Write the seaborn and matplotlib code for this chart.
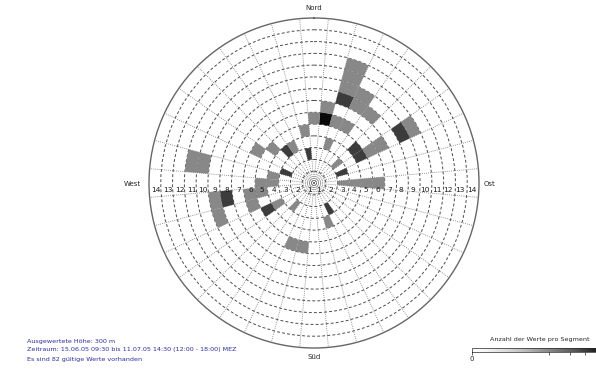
import numpy as np
import seaborn as sns
import matplotlib.pyplot as plt
from matplotlib.colors import PowerNorm
from matplotlib.cm import ScalarMappable

# segment data: direction sector (deg, centre), range band (1..14), count
sectors = [20, 20, 20, 20, 30, 30, 40,
           10, 10, 0, 20, 30,
           350, 20, 350, 320, 330, 310, 300,
           280, 280,
           60, 60,
           50, 60, 60, 60,
           90, 90, 90, 90, 70, 50,
           150, 160, 190, 200, 220, 240, 240,
           250, 260, 260, 270, 270, 280, 290,
           260, 260, 250]
bands = [11, 10, 9, 8, 9, 8, 8,
         7, 6, 6, 6, 6,
         5, 4, 3, 4, 4, 5, 6,
         10, 11,
         9, 10,
         5, 5, 6, 7,
         3, 4, 5, 6, 3, 3,
         3, 4, 6, 6, 3, 4, 5,
         6, 6, 5, 4, 5, 4, 3,
         8, 9, 9]
counts = [1, 1, 1, 3, 1, 1, 1,
          1, 5, 1, 1, 1,
          1, 1, 3, 3, 1, 1, 1,
          1, 1,
          3, 1,
          3, 3, 1, 1,
          1, 1, 1, 1, 3, 1,
          3, 1, 1, 1, 1, 1, 3,
          1, 1, 1, 1, 1, 1, 3,
          3, 1, 1]
ring_labels = [str(k) for k in range(1, 15)]

info_lines = ["Ausgewertete Höhe: 300 m",
              "Zeitraum: 15.06.05 09:30 bis 11.07.05 14:30 (12:00 - 18:00) MEZ",
              "Es sind 82 gültige Werte vorhanden"]

sns.set_style("white")
plt.rcParams['font.family'] = ['DejaVu Sans']

cmap = sns.color_palette("Greys", as_cmap=True)
norm = PowerNorm(gamma=0.35, vmin=0, vmax=5.5)

W, H = 596, 372
fig = plt.figure(figsize=(W / 100, H / 100), dpi=100)
ax = fig.add_axes([149 / W, 24 / H, 330 / W, 330 / H], projection='polar')
ax.set_theta_zero_location('N')
ax.set_theta_direction(-1)

ax.bar(np.deg2rad(sectors), 1, width=np.deg2rad(10),
       bottom=np.array(bands) - 1, color=cmap(norm(np.array(counts))),
       edgecolor='none', zorder=2)

ax.set_ylim(0, 14)
ax.set_rgrids(range(1, 14), labels=[])
ax.set_thetagrids(np.arange(5, 360, 10), labels=[])
ax.xaxis.grid(True, linestyle=(0, (1, 1.5)), color='0.45', lw=0.6)
ax.yaxis.grid(True, linestyle=(0, (3, 2.2)), color='0.3', lw=0.7)
ax.set_axisbelow(True)
ax.spines['polar'].set_color('0.4')
ax.spines['polar'].set_linewidth(1.0)

# ring numbers along the east and west axes
for k, lab in enumerate(ring_labels, start=1):
    for th in (np.pi / 2, 3 * np.pi / 2):
        ax.annotate(lab, xy=(th, k - 0.6), xytext=(0, -5),
                    textcoords='offset points', ha='center', va='center',
                    fontsize=5.3, color='0.1', zorder=5)

fig.text(314 / W, 1 - 8 / H, "Nord", ha='center', va='center', fontsize=5)
fig.text(314 / W, 1 - 357 / H, "Süd", ha='center', va='center', fontsize=5)
fig.text(132 / W, 1 - 184 / H, "West", ha='center', va='center', fontsize=5)
fig.text(490 / W, 1 - 184 / H, "Ost", ha='center', va='center', fontsize=5)

for i, line in enumerate(info_lines):
    fig.text(27 / W, 1 - (341 + i * 9) / H, line, ha='left', va='center',
             fontsize=4.6, color='#2b2ba8')

# colour scale
cax = fig.add_axes([472 / W, 20 / H, 140 / W, 4 / H])
cb = fig.colorbar(ScalarMappable(norm=norm, cmap=cmap), cax=cax,
                  orientation='horizontal')
cb.set_ticks(range(0, 6))
cb.set_ticklabels(['0', '', '', '', '', ''])
cb.outline.set_linewidth(0.5)
cax.tick_params(labelsize=5, length=2, width=0.5, pad=1)
fig.text(490 / W, 1 - 340 / H, "Anzahl der Werte pro Segment",
         ha='left', va='center', fontsize=4.6)

fig.savefig('out.png', dpi=100)
